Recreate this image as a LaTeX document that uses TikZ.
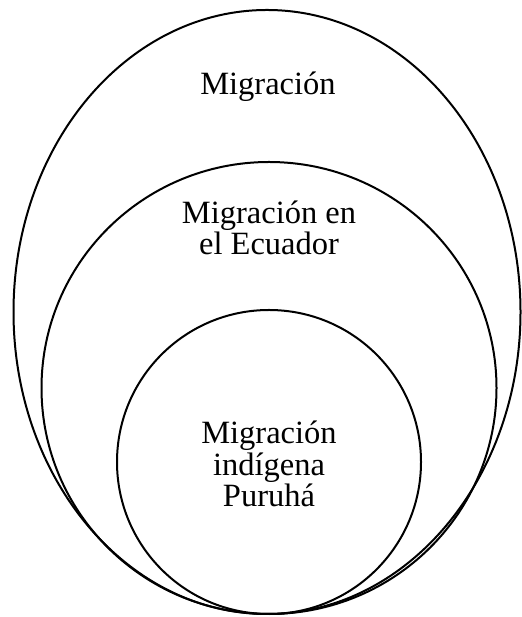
\documentclass[tikz,border=0pt]{standalone}
\usepackage{fontspec}
\setmainfont{Liberation Serif}
\tikzset{
    ring/.style={draw, line width=2pt},
    lbl/.style={font=\fontsize{32.5}{31.5}\selectfont, align=center, inner sep=0pt, anchor=base},
}
\begin{document}
\begin{tikzpicture}[x=1pt,y=1pt]
    \useasboundingbox (0,0) rectangle (521,617);
    % nested rings, all touching at the bottom
    \draw[ring] (267,305) ellipse (253.5 and 302);
    \draw[ring] (269,229) ellipse (227.5 and 226);
    \draw[ring] (269,155) circle (152);
    \node[lbl] (mig) at (268,522) {Migraci\'on};
    \node[lbl] (ecu) at (269,362) {Migraci\'on en\\el Ecuador};
    \node[lbl] (puru) at (269,110) {Migraci\'on\\ind\'igena\\Puruh\'a};
\end{tikzpicture}
\end{document}
